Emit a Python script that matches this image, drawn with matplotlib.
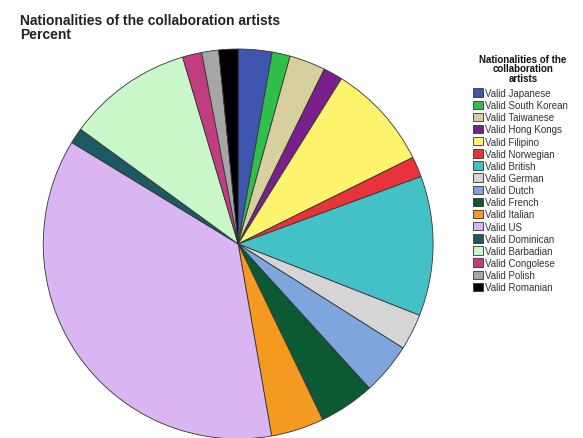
import matplotlib.pyplot as plt
from matplotlib.patches import Patch

plt.rcParams['font.family'] = ['Liberation Sans', 'DejaVu Sans']

nationalities = ['Japanese', 'South Korean', 'Taiwanese', 'Hong Kongs', 'Filipino',
                 'Norwegian', 'British', 'German', 'Dutch', 'French', 'Italian', 'US',
                 'Dominican', 'Barbadian', 'Congolese', 'Polish', 'Romanian']
percent = [2.8, 1.5, 3.0, 1.6, 8.8, 1.7, 11.6, 3.0, 4.3, 4.6, 4.4, 36.5,
           1.3, 10.4, 1.6, 1.4, 1.6]
colors = ['#3f56b0', '#2fbf4a', '#d8cf9e', '#7a1f8c', '#fbf46c', '#e8333a', '#44c1c6',
          '#d5d5d5', '#7fa6dc', '#0b5a33', '#f59a21', '#d9b6f2', '#1b5a63', '#c9f7c9',
          '#c23c80', '#a6a6a6', '#000000']

W, H = 583, 439
fig = plt.figure(figsize=(W / 100, H / 100), dpi=100)
ax = fig.add_axes([0.074, -0.002, 0.669, 0.888])
ax.pie(percent, colors=colors, startangle=90, counterclock=False, radius=1,
       wedgeprops=dict(edgecolor='#333333', linewidth=0.6))
ax.set_xlim(-1, 1)
ax.set_ylim(-1, 1)
ax.set_aspect('equal')
ax.axis('off')

# chart title
fig.text(20 / W, 1 - 25 / H, 'Nationalities of the collaboration artists',
         fontsize=10, fontweight='bold', va='baseline', ha='left', color='#222222')
fig.text(20 / W, 1 - 39 / H, 'Percent',
         fontsize=10, fontweight='bold', va='baseline', ha='left', color='#222222')

# legend title
for i, line in enumerate(['Nationalities of the', 'collaboration', 'artists']):
    fig.text(523 / W, 1 - (63 + 9.5 * i) / H, line, fontsize=7, fontweight='bold',
             ha='center', va='baseline', color='#111111')

handles = [Patch(facecolor=c, edgecolor='#333333', linewidth=0.6) for c in colors]
labels = ['Valid ' + n for n in nationalities]
leg = fig.legend(handles, labels, loc='upper left', bbox_to_anchor=(0.811, 1 - 89 / H),
                 frameon=False, fontsize=7,
                 handlelength=1.0, handleheight=0.95, handletextpad=0.3,
                 labelspacing=0.22, borderaxespad=0, borderpad=0)
for t in leg.get_texts():
    t.set_color('#333333')

fig.savefig('out.png', dpi=100)
